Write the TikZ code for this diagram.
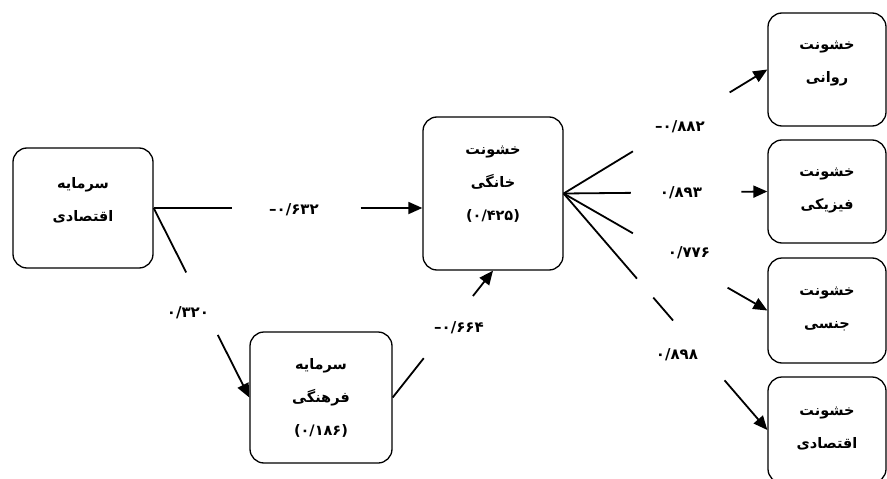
\documentclass[tikz,border=0pt]{standalone}
\usepackage{fontspec}
\TeXXeTstate=1
\newfontfamily\fafont[Script=Arabic, BoldFont={DejaVu Sans Bold}]{DejaVu Sans}
\usetikzlibrary{arrows.meta}
\newcommand{\rl}[1]{\beginR#1\endR}
\newcommand{\negnum}[1]{\hbox{–}\hbox{#1}}

\begin{document}
\begin{tikzpicture}[x=1pt,y=-1pt,
    box/.style={draw, rounded corners=14pt, line width=1.3pt, align=center,
        font=\fafont\bfseries\fontsize{14.5}{33}\selectfont},
    num/.style={font=\fafont\bfseries\fontsize{15}{17}\selectfont},
    conn/.style={line width=1.8pt},
    tip/.style={-{Triangle[length=14pt,width=12pt]}}]
    \useasboundingbox (0,0) rectangle (887,479);

    % Draw the boxes on the left and in the middle
    \node[box, minimum width=140pt, minimum height=120pt, text depth=17pt] (eco) at (83,208) {\rl{سرمایه}\\\rl{اقتصادی}};
    \node[box, minimum width=142pt, minimum height=131pt] (cult) at (321,397.5) {\rl{سرمایه}\\\rl{فرهنگی}\\(۰/۱۸۶)};
    \node[box, minimum width=140pt, minimum height=153pt, text depth=20pt] (home) at (493,193.5) {\rl{خشونت}\\\rl{خانگی}\\(۰/۴۲۵)};

    % Draw the boxes on the right
    \foreach \name/\y/\h/\lift/\word in {psy/69.5/113/15/روانی, phys/191.5/103/5/فیزیکی, sex/310.5/105/5/جنسی, econv/430/106/5/اقتصادی} {
        \node[box, minimum width=118pt, minimum height=\h pt, text depth=\lift pt] (\name) at (827,\y) {\rl{خشونت}\\\rl{\word}};
    }

    % Economic capital to domestic violence
    \coordinate (home-in) at (home.west |- eco.east);
    \path (eco.east) -- (home-in) coordinate[pos=0.29] (eh-a) coordinate[pos=0.77] (eh-b);
    \draw[conn] (eco.east) -- (eh-a);
    \draw[conn,tip] (eh-b) -- (home-in);
    \node[num] (l-eh) at (294,210) {\negnum{۰/۶۳۲}};

    % Economic capital to cultural capital
    \path (eco.east) -- (cult.west) coordinate[pos=0.34] (ec-a) coordinate[pos=0.67] (ec-b);
    \draw[conn] (eco.east) -- (ec-a);
    \draw[conn,tip] (ec-b) -- (cult.west);
    \node[num] (l-ec) at (188,313) {۰/۳۲۰};

    % Cultural capital to domestic violence
    \path (cult.east) -- (home.south) coordinate[pos=0.31] (ch-a) coordinate[pos=0.80] (ch-b);
    \draw[conn] (cult.east) -- (ch-a);
    \draw[conn,tip] (ch-b) -- (home.south);
    \node[num] (l-ch) at (459,328) {\negnum{۰/۶۶۴}};

    % Domestic violence to the four kinds
    \foreach \b/\p/\q in {psy/0.34/0.815, phys/0.33/0.873, sex/0.34/0.805} {
        \path (home.east) -- (\b.west) coordinate[pos=\p] (\b-a) coordinate[pos=\q] (\b-b);
        \draw[conn] (home.east) -- (\b-a);
        \draw[conn,tip] (\b-b) -- (\b.west);
    }
    \path (home.east) -- (econv.west) coordinate[pos=0.36] (econv-a) coordinate[pos=0.44] (econv-b)
        coordinate[pos=0.537] (econv-c) coordinate[pos=0.79] (econv-d);
    \draw[conn] (home.east) -- (econv-a);
    \draw[conn] (econv-b) -- (econv-c);
    \draw[conn,tip] (econv-d) -- (econv.west);

    \node[num] (l-psy) at (680,127) {\negnum{۰/۸۸۲}};
    \node[num] (l-phys) at (681,193) {۰/۸۹۳};
    \node[num] (l-sex) at (689,253) {۰/۷۷۶};
    \node[num] (l-econv) at (677,355) {۰/۸۹۸};
\end{tikzpicture}
\end{document}
